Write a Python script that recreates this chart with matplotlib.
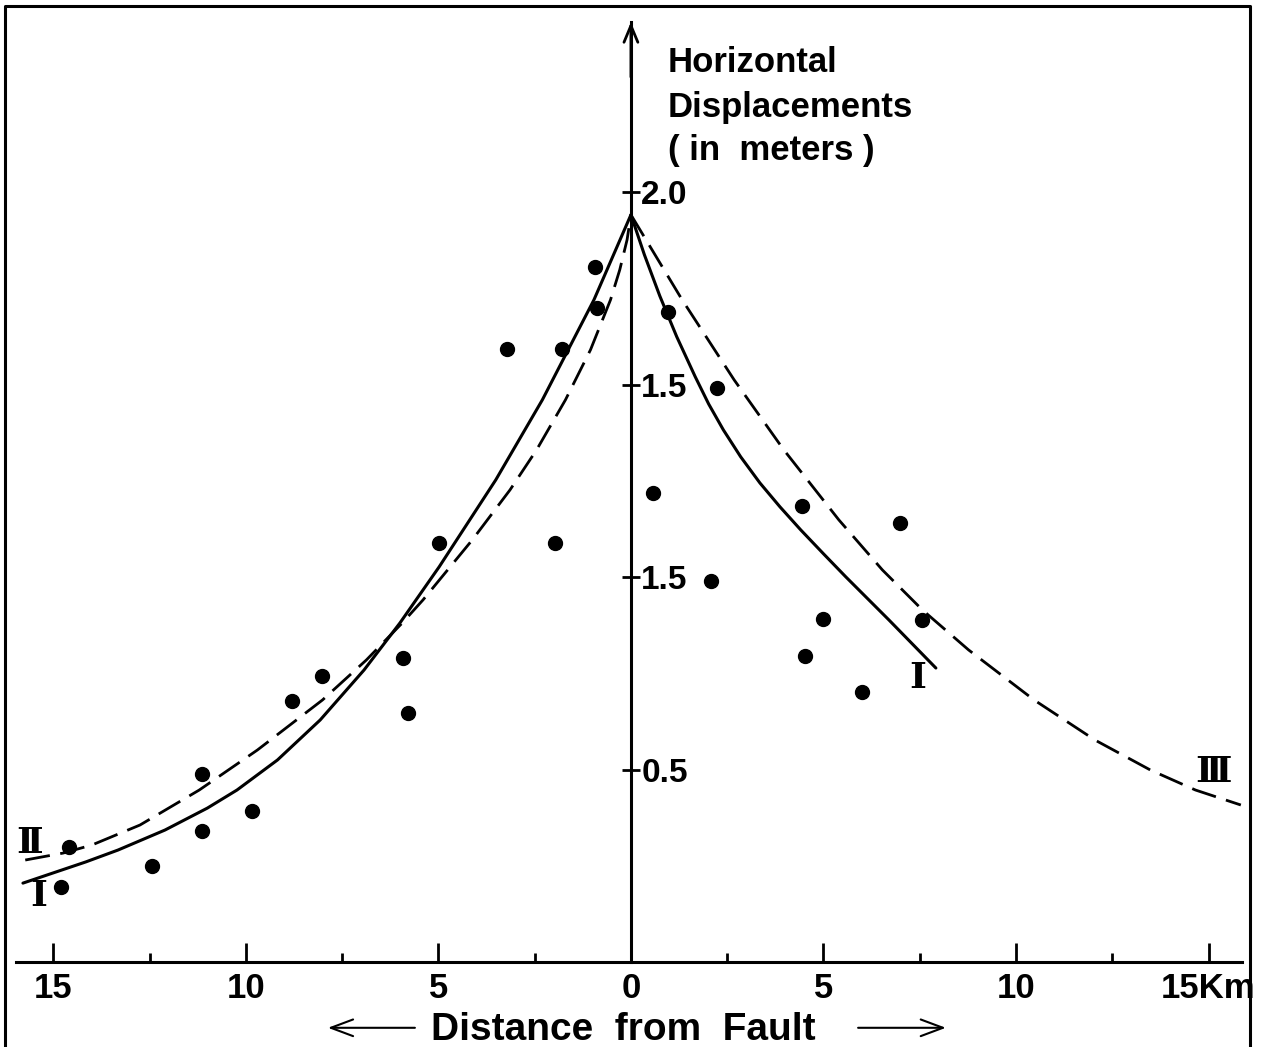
import matplotlib
matplotlib.use("Agg")
import matplotlib.pyplot as plt
from matplotlib.lines import Line2D

plt.rcParams["font.family"] = ["Liberation Sans", "DejaVu Sans"]
plt.rcParams["font.weight"] = "bold"

# observed horizontal displacements: distance from the fault in km
# (west side negative) and displacement in metres
obs_km = [-0.93, -0.87, -3.21, -1.80, -4.99, -1.97, -5.93, -8.03, -8.80, -5.78,
          -11.13, -9.84, -11.15, -12.43, -14.60, -14.81,
          0.95, 2.24, 0.58, 4.45, 6.99, 2.08, 5.00, 7.55, 4.52, 6.00]
obs_m = [1.807, 1.699, 1.592, 1.592, 1.090, 1.090, 0.789, 0.744, 0.679, 0.646,
         0.489, 0.393, 0.341, 0.250, 0.298, 0.194,
         1.690, 1.493, 1.218, 1.186, 1.142, 0.991, 0.891, 0.889, 0.794, 0.702]

# model curve I (solid), west and east branches
curve1_west_km = [-15.79, -14.16, -13.32, -12.10, -11.00, -10.23, -9.18, -8.07,
                  -6.93, -6.00, -4.98, -3.51, -2.30, -0.96, 0.0]
curve1_west_m = [0.205, 0.260, 0.291, 0.343, 0.400, 0.447, 0.525, 0.629,
                 0.759, 0.881, 1.027, 1.253, 1.461, 1.721, 1.942]
curve1_east_km = [0.0, 0.35, 0.75, 1.19, 1.67, 2.02, 2.40, 2.85, 3.35, 3.87,
                  4.41, 5.00, 5.58, 6.70, 7.92]
curve1_east_m = [1.942, 1.838, 1.731, 1.625, 1.521, 1.450, 1.383, 1.313, 1.245, 1.183,
                 1.123, 1.061, 1.001, 0.889, 0.764]

# model curve II (dashed, west side)
curve2_km = [-15.73, -14.75, -14.00, -12.75, -11.21, -9.70, -8.01, -6.87, -5.94,
             -5.40, -4.12, -3.14, -2.45, -1.70, -1.05, -0.53, -0.29, -0.10, 0.0]
curve2_m = [0.265, 0.283, 0.304, 0.356, 0.447, 0.551, 0.681, 0.785, 0.881,
            0.941, 1.097, 1.227, 1.331, 1.461, 1.591, 1.721, 1.799, 1.877, 1.942]

# model curve III (dashed, east side)
curve3_km = [0.0, 1.33, 2.68, 3.97, 5.40, 6.53, 7.57, 8.77, 10.47, 12.05,
             13.49, 14.66, 15.84]
curve3_m = [1.942, 1.721, 1.513, 1.331, 1.149, 1.019, 0.915, 0.811, 0.681, 0.577,
            0.499, 0.447, 0.408]

xtick_km = [-15, -10, -5, 0, 5, 10, 15]
xtick_labels = ["15", "10", "5", "0", "5", "10", "15Km"]
xminor_km = [-12.5, -7.5, -2.5, 2.5, 7.5, 12.5]
ytick_m = [0.5, 1.0, 1.5, 2.0]
ytick_labels = ["0.5", "1.5", "1.5", "2.0"]

W, H = 1267, 1047
fig = plt.figure(figsize=(W / 100, H / 100), dpi=100)
ax = fig.add_axes([16 / W, 1 - 962 / H, 1226 / W, 940 / H])
ax.set_xlim(-15.97, 15.87)
ax.set_ylim(0, 2.443)

# outer border (open at the bottom)
fig.add_artist(Line2D([5 / W, 5 / W, 1250 / W, 1250 / W], [0, 1 - 6 / H, 1 - 6 / H, 0],
                      color="black", lw=2.2, transform=fig.transFigure))

# axes: distance along the bottom, displacement on a vertical line at the fault
ax.spines["left"].set_visible(False)
ax.spines["top"].set_visible(False)
ax.spines["right"].set_position(("data", 0))
for side in ("right", "bottom"):
    ax.spines[side].set_linewidth(2.2)

ax.set_xticks(xtick_km, xtick_labels)
ax.set_xticks(xminor_km, minor=True)
ax.tick_params(axis="x", which="major", direction="in", length=14, width=2,
               pad=7, labelsize=25)
ax.tick_params(axis="x", which="minor", direction="in", length=6.5, width=2)

ax.yaxis.set_ticks_position("right")
ax.set_yticks(ytick_m, ytick_labels)
ax.tick_params(axis="y", direction="inout", length=13, width=2, pad=1, labelsize=24)

ax.annotate("", xy=(0, 2.443), xytext=(0, 2.30), annotation_clip=False,
            arrowprops=dict(arrowstyle="->,head_length=0.6,head_width=0.25",
                            lw=2, mutation_scale=20, shrinkA=0, shrinkB=0))

ax.text(0.96, 2.313, "Horizontal", fontsize=25, ha="left", va="baseline")
ax.text(0.96, 2.196, "Displacements", fontsize=25, ha="left", va="baseline")
ax.text(0.96, 2.084, "( in  meters )", fontsize=25, ha="left", va="baseline")

# curves and observations
line_kw = dict(color="black", solid_capstyle="round", solid_joinstyle="round")
ax.plot(curve1_west_km, curve1_west_m, lw=2.2, **line_kw)
ax.plot(curve1_east_km, curve1_east_m, lw=2.2, **line_kw)
ax.plot(curve2_km, curve2_m, lw=2, linestyle=(0, (9, 3.8)), **line_kw)
ax.plot(curve3_km, curve3_m, lw=2, linestyle=(0, (9, 3.8)), **line_kw)
ax.plot(obs_km, obs_m, "o", color="black", markersize=10, clip_on=False)

roman = dict(family=["DejaVu Serif", "DejaVu Sans"], weight="bold", fontsize=26,
             ha="center", va="center")
ax.text(-15.38, 0.172, "Ⅰ", **roman)
ax.text(-15.61, 0.309, "Ⅱ", **roman)
ax.text(7.45, 0.738, "Ⅰ", **roman)
ax.text(15.12, 0.494, "Ⅲ", **roman)

# axis caption with direction arrows
xaxis_tf = ax.get_xaxis_transform()
ax.text(-0.19, -0.083, "Distance  from  Fault", transform=xaxis_tf,
        fontsize=28, ha="center", va="baseline")
arrow = dict(arrowstyle="->,head_length=0.8,head_width=0.3", lw=1.5,
             mutation_scale=20, shrinkA=0, shrinkB=0)
ax.annotate("", xy=(-7.87, -0.070), xytext=(-5.61, -0.070), xycoords=xaxis_tf,
            annotation_clip=False, arrowprops=arrow)
ax.annotate("", xy=(8.18, -0.070), xytext=(5.90, -0.070), xycoords=xaxis_tf,
            annotation_clip=False, arrowprops=arrow)

fig.savefig("out.png", dpi=100)
